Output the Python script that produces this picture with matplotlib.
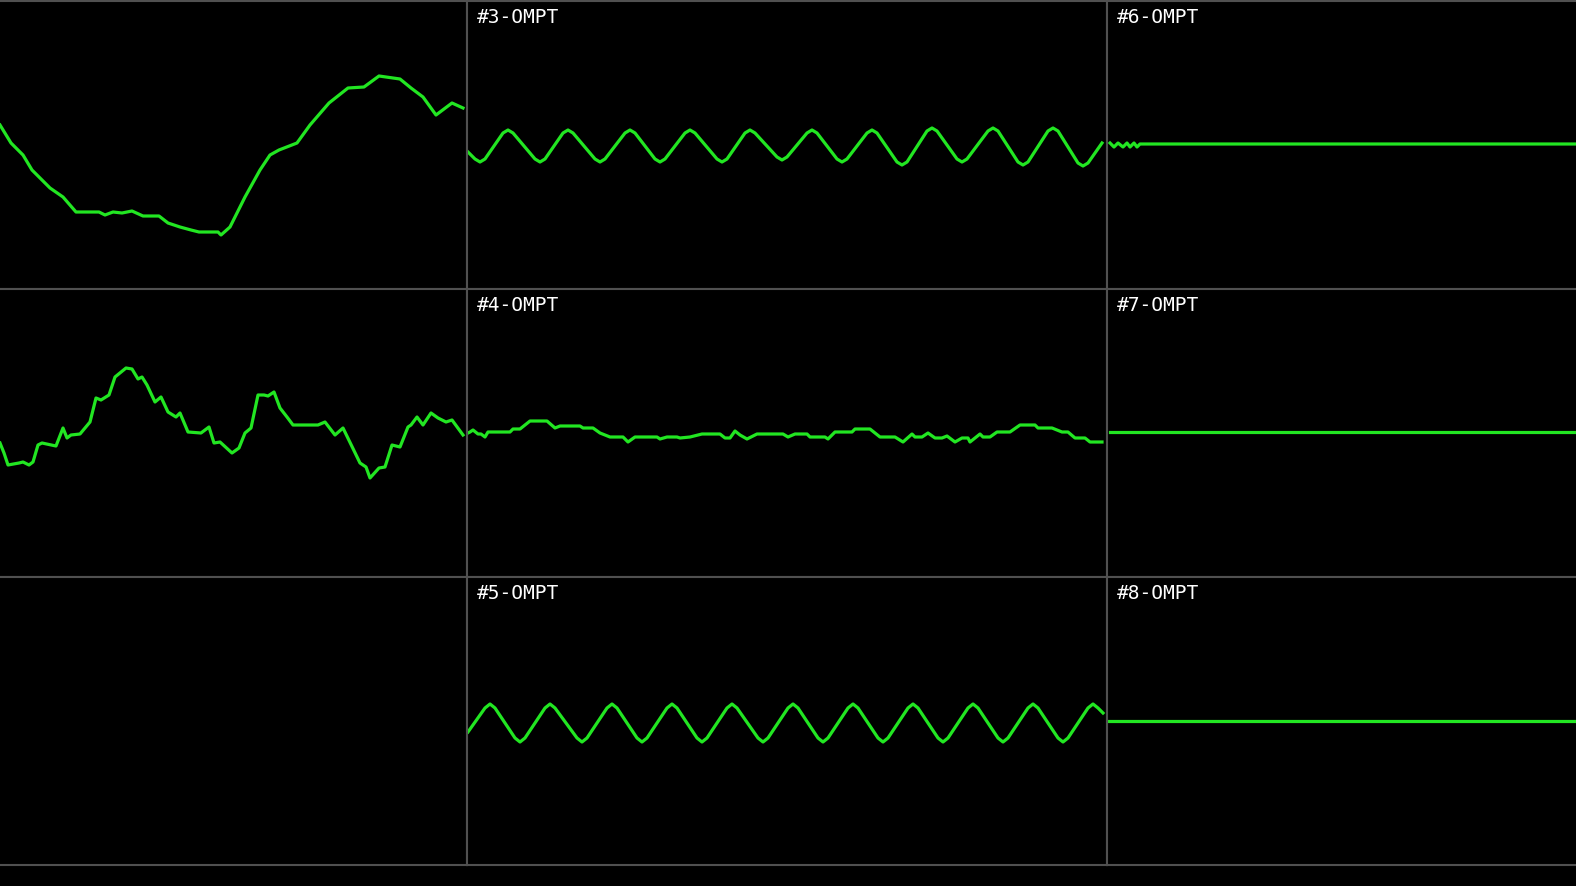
import matplotlib.pyplot as plt

# Traces: x in panel pixels (each panel is 640 px wide), y in pixels above the panel centre.
# Channel 0 (left column, top) - the left part of that column is cut off
ch0_x = [173, 184, 196, 205, 223, 236, 249, 272, 278, 286, 295, 305, 316, 332, 341, 353, 364,
         372, 391, 394, 403, 418, 433, 443, 452, 470, 483, 502, 521, 537, 552, 573, 584, 596,
         609, 625, 636]
ch0_y = [20, 2, -10, -25, -43, -52, -67, -67, -70, -67, -68, -66, -71, -71, -78, -82, -85,
         -87, -87, -90, -82, -52, -25, -10, -5, 2, 20, 42, 57, 58, 69, 66, 57, 48,
         30, 42, 37]

# Channel 1 (left column, middle)
ch1_x = [173, 177, 181, 192, 196, 202, 206, 211, 215, 229, 236, 240, 244, 253, 263, 269, 274,
         282, 288, 299, 305, 311, 315, 320, 328, 334, 341, 349, 353, 361, 374, 382, 387, 393,
         405, 412, 418, 424, 431, 437, 441, 447, 453, 460, 466, 491, 498, 508, 516, 533, 539,
         543, 552, 558, 565, 573, 581, 584, 590, 596, 604, 611, 619, 625, 636]
ch1_y = [-10, -20, -32, -30, -29, -32, -29, -12, -10, -13, 5, -5, -2, -1, 11, 35, 33,
         38, 56, 65, 64, 54, 56, 48, 31, 36, 21, 16, 20, 1, 0, 6, -10, -9,
         -20, -15, 0, 5, 38, 38, 37, 41, 25, 16, 8, 8, 11, -2, 5, -30, -34,
         -45, -35, -34, -12, -14, 6, 8, 16, 8, 20, 15, 11, 13, -2]

# Channel 3
ch3_x = [1, 8, 13, 18, 36, 41, 46, 68, 73, 78, 96, 101, 106, 128, 133, 138, 158, 163, 168,
         188, 193, 198, 218, 223, 228, 250, 255, 260, 278, 283, 288, 310, 315, 320, 340, 345,
         350, 370, 375, 380, 400, 405, 410, 430, 435, 440, 460, 465, 470, 490, 495, 500, 521,
         526, 531, 551, 556, 561, 581, 586, 591, 611, 616, 621, 635]
ch3_y = [-7, -14, -17, -14, 12, 15, 12, -14, -17, -14, 12, 15, 12, -14, -17, -14, 12, 15, 12,
         -14, -17, -14, 12, 15, 12, -14, -17, -14, 12, 15, 12, -12, -15, -12, 12, 15,
         12, -14, -17, -14, 12, 15, 12, -17, -20, -17, 14, 17, 14, -14, -17, -14, 14,
         17, 14, -17, -20, -17, 14, 17, 14, -18, -21, -18, 2]

# Channel 4
ch4_x = [1, 3, 6, 11, 14, 18, 21, 43, 46, 53, 63, 80, 88, 93, 113, 116, 126, 133, 143, 156,
         161, 168, 190, 193, 200, 210, 213, 223, 235, 253, 258, 263, 268, 273, 280, 290, 316,
         321, 328, 340, 343, 358, 361, 368, 385, 388, 403, 413, 428, 436, 445, 448, 455, 461,
         468, 475, 480, 488, 495, 501, 503, 513, 516, 523, 530, 543, 553, 568, 571, 585, 595,
         601, 608, 618, 623, 635]
ch4_y = [0, 1, 3, -1, -1, -4, 1, 1, 4, 4, 12, 12, 5, 7, 7, 5, 5, 0, -4, -4,
         -9, -4, -4, -6, -4, -4, -5, -4, -1, -1, -5, -5, 2, -2, -6, -1, -1,
         -4, -1, -1, -4, -4, -6, 1, 1, 4, 4, -4, -4, -9, -1, -4, -4, 0,
         -5, -5, -3, -9, -5, -5, -9, -1, -4, -4, 1, 1, 8, 8, 5, 5, 1,
         1, -5, -5, -9, -9]

# Channel 5
ch5_x = [1, 18, 23, 28, 48, 53, 58, 78, 83, 88, 110, 115, 120, 140, 145, 150, 170, 175, 180,
         200, 205, 210, 230, 235, 240, 260, 265, 270, 291, 296, 301, 321, 326, 331, 351, 356,
         361, 381, 386, 391, 411, 416, 421, 441, 446, 451, 471, 476, 481, 501, 506, 511, 531,
         536, 541, 561, 566, 571, 591, 596, 601, 621, 626, 631, 636]
ch5_y = [-11, 13, 17, 13, -17, -21, -17, 13, 17, 13, -17, -21, -17, 13, 17, 13, -17, -21, -17,
         13, 17, 13, -17, -21, -17, 13, 17, 13, -17, -21, -17, 13, 17, 13, -17, -21,
         -17, 13, 17, 13, -17, -21, -17, 13, 17, 13, -17, -21, -17, 13, 17, 13, -17,
         -21, -17, 13, 17, 13, -17, -21, -17, 13, 17, 13, 8]

# Channels 6-8 (right column, cut off on the right)
ch6_x = [3, 7, 11, 16, 20, 23, 27, 30, 33, 640]
ch6_y = [2, -2, 2, -2, 2, -2, 2, -2, 1, 1]
ch7_x = [3, 640]
ch7_y = [1, 1]
ch8_x = [1, 640]
ch8_y = [0, 0]

traces = {0: (ch0_x, ch0_y), 1: (ch1_x, ch1_y), 3: (ch3_x, ch3_y), 4: (ch4_x, ch4_y),
          5: (ch5_x, ch5_y), 6: (ch6_x, ch6_y), 7: (ch7_x, ch7_y), 8: (ch8_x, ch8_y)}
labels = {3: '#3-OMPT', 4: '#4-OMPT', 5: '#5-OMPT', 6: '#6-OMPT', 7: '#7-OMPT', 8: '#8-OMPT'}

W, H = 1576, 886
fig = plt.figure(figsize=(W / 100, H / 100), dpi=100, facecolor='black')

# pixel extents of the grid cells on the screen
col_px = [(0, 467), (467, 1107), (1107, 1576)]
row_px = [(1, 289), (289, 577), (577, 865)]
# visible part of each column in panel pixels
col_xlim = [(173, 640), (0, 640), (0, 469)]

grid_color = '#505050'
trace_color = '#22e622'

for c in range(3):
    for r in range(3):
        ch = c * 3 + r
        x0, x1 = col_px[c]
        y0, y1 = row_px[r]
        ax = fig.add_axes([x0 / W, 1 - y1 / H, (x1 - x0) / W, (y1 - y0) / H])
        ax.set_facecolor('black')
        ax.set_xlim(col_xlim[c])
        ax.set_ylim(-144, 144)
        ax.set_xticks([])
        ax.set_yticks([])
        for side, sp in ax.spines.items():
            sp.set_color(grid_color)
            sp.set_linewidth(1.5)
        if c == 0:
            ax.spines['left'].set_visible(False)
        if c == 2:
            ax.spines['right'].set_visible(False)

        if ch in traces:
            tx, ty = traces[ch]
            ax.plot(tx, ty, color=trace_color, lw=2.3, solid_joinstyle='round')

        if ch in labels:
            ax.annotate(labels[ch], xy=(0, 1), xycoords='axes fraction',
                        xytext=(7.2, -15.6), textcoords='offset points',
                        color='white', fontsize=14, family='DejaVu Sans Mono',
                        ha='left', va='baseline')

plt.savefig('out.png', dpi=100, facecolor='black')
